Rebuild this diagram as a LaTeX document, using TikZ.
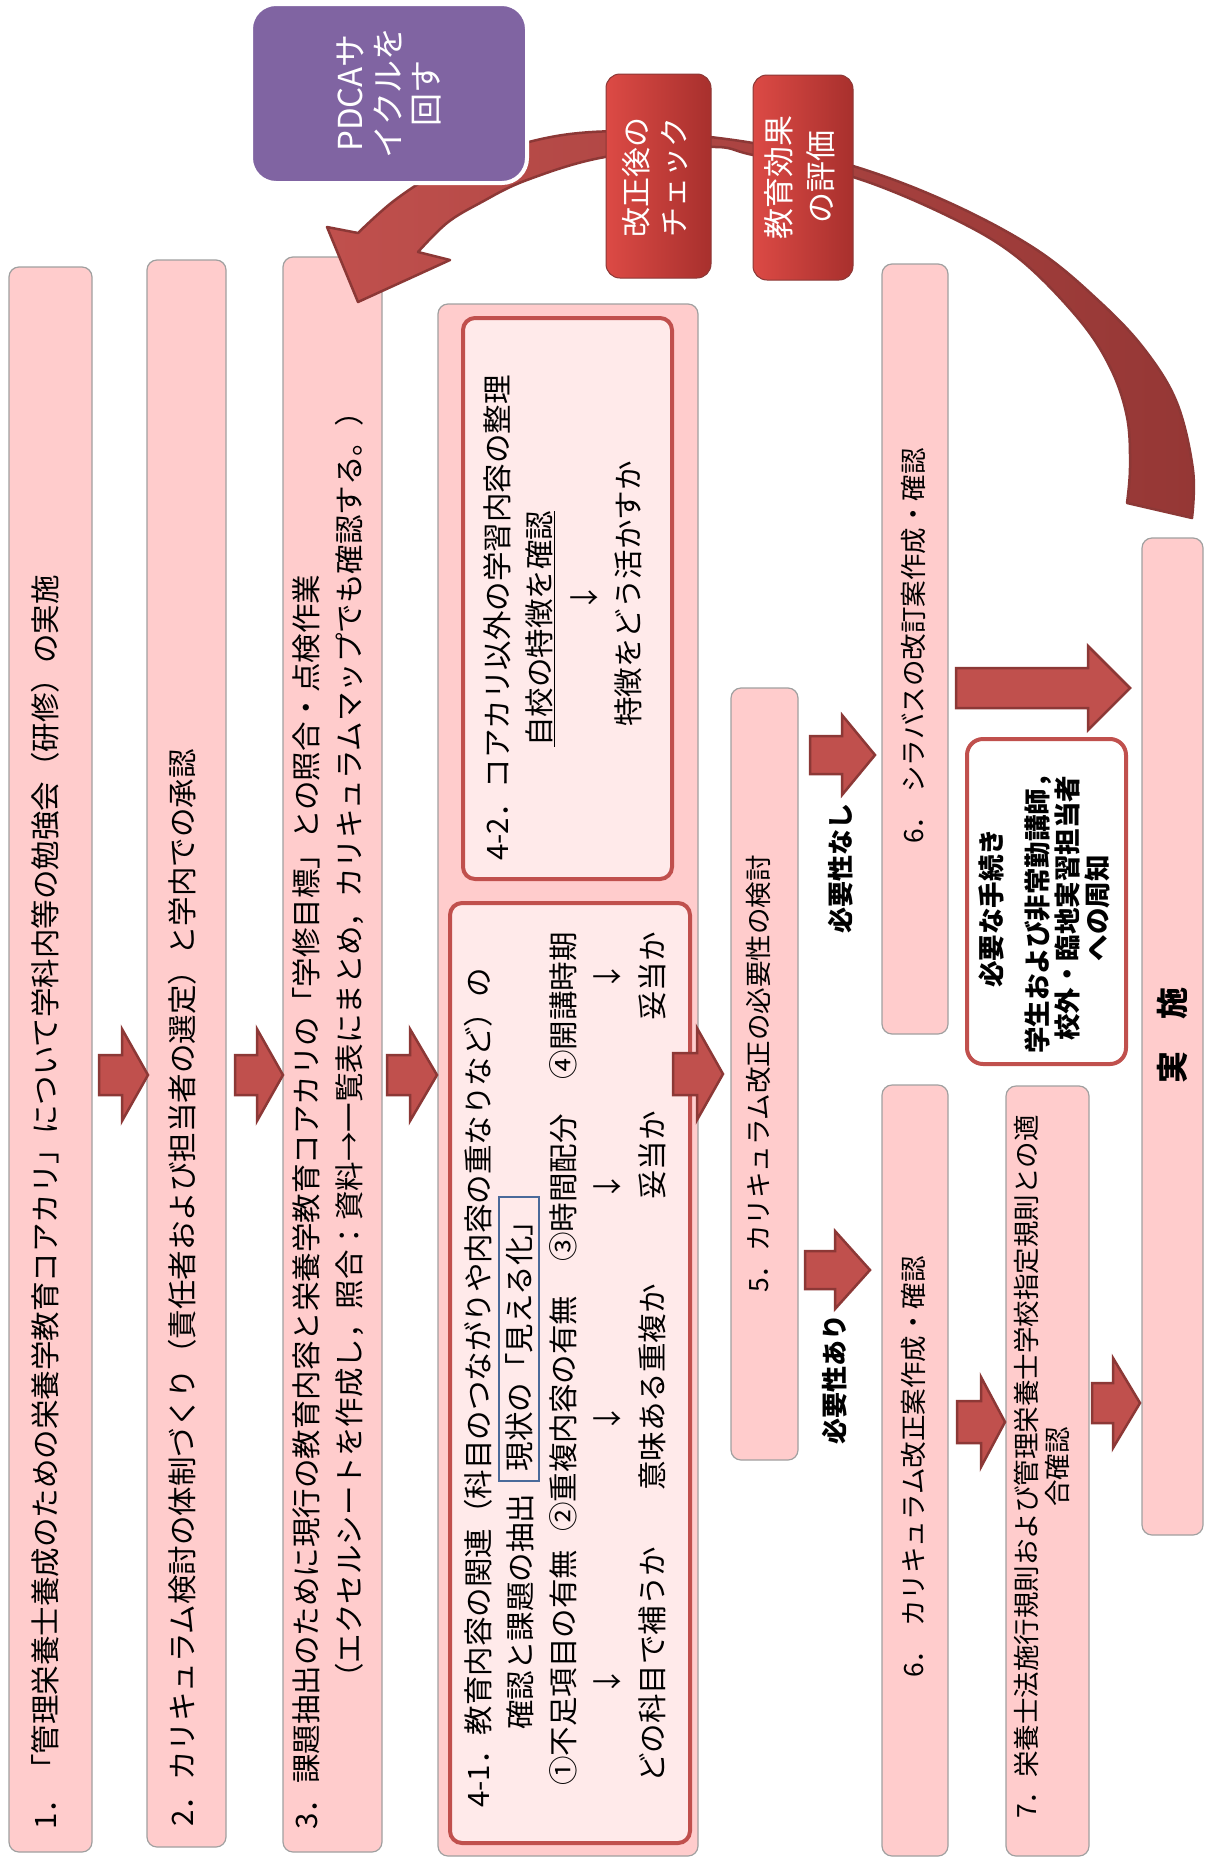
\documentclass[tikz,border=0pt]{standalone}
\usepackage{fontspec}
\setmainfont{Noto Sans CJK JP}
\usetikzlibrary{fit}
\definecolor{pinkbox}{HTML}{FFCCCC}
\definecolor{pinkin}{HTML}{FFEAEA}
\definecolor{graybd}{HTML}{A0A0A0}
\definecolor{redA}{HTML}{C0504D}
\definecolor{redD}{HTML}{8C3836}
\definecolor{redE}{HTML}{953735}
\definecolor{purp}{HTML}{8064A2}
\definecolor{redL}{HTML}{DC4A45}
\definecolor{redR}{HTML}{A8302D}
\definecolor{bluebd}{HTML}{4A6A9A}
\newcommand{\fs}[1]{\fontsize{#1}{#1}\selectfont}
\newcommand{\fsb}[2]{\fontsize{#1}{#2}\selectfont}
\newcommand{\barrow}[6]{\draw[barrowst] (#1,#4-#5) -- (#2,#4-#5) -- (#2,#4-#6) -- (#3,#4) -- (#2,#4+#6) -- (#2,#4+#5) -- (#1,#4+#5) -- cycle;}
\begin{document}
\begin{tikzpicture}[x=1pt,y=-1pt,
  pbox/.style={draw=graybd, line width=1.2pt, fill=pinkbox, rounded corners=10pt, inner sep=0pt},
  ibox/.style={draw=redA, line width=4pt, fill=pinkin, rounded corners=12pt, inner sep=0pt},
  barrowst/.style={fill=redA, draw=redD, line width=2.5pt, line join=miter},
  redbox/.style={left color=redL, right color=redR, draw=redD, line width=1pt, rounded corners=14pt, inner sep=0pt},
  t/.style={inner sep=0pt, rotate=90, text=black},
  tA/.style={t, font=\fs{29.5}},
  tB/.style={t, font=\fs{26.5}},
]
\useasboundingbox (0,0) rectangle (1205,1863);
\fill[white] (0,0) rectangle (1205,1863);

% ---- boxes
\node[pbox, fit={(9,267) (92,1852)}] (b1) {};
\node[pbox, fit={(147,260) (226,1847)}] (b2) {};
\node[pbox, fit={(283,257) (382,1852)}] (b3) {};
\node[pbox, fit={(438,304) (698,1856)}] (b4) {};
\node[ibox, fit={(463,318) (672,879)}] (b42) {};
\node[ibox, fit={(450,903) (690,1843)}] (b41) {};
\node[pbox, fit={(731,688) (798,1460)}] (b5) {};
\node[pbox, fit={(882,264) (948,1034)}] (b6a) {};
\node[pbox, fit={(882,1085) (948,1856)}] (b6b) {};
\node[pbox, fit={(1006,1086) (1089,1856)}] (b7) {};
\node[pbox, fit={(1142,538) (1203,1535)}] (bj) {};
\node[fit={(967,739) (1126,1064)}, inner sep=0pt, draw=redA, line width=4pt, fill=white, rounded corners=16pt] (note) {};

% ---- block arrows
\barrow{99}{122}{148}{1075}{20}{46}
\barrow{235}{257}{283}{1075}{20}{46}
\barrow{387}{410}{437}{1075}{20}{46}
\barrow{673}{697}{723}{1074}{21}{46}
\barrow{810}{842}{875}{755}{19}{40}
\barrow{805}{835}{870}{1270}{19}{39}
\barrow{957}{981}{1005}{1422}{21}{45}
\barrow{1092}{1113}{1140}{1403}{20}{45}
\barrow{956}{1088}{1130}{688}{20}{42}

% ---- curved arrow
\path[draw=redD, line width=2.5pt, left color=redA, right color=redE, line join=round]
  plot[smooth, tension=0.6] coordinates {(1192,518) (1193,470) (1177,403) (1145,350) (1100,302) (1037,250) (950,203) (853,166) (753,143) (650,132) (570,134) (500,150) (440,172) (395,200) (358,233)}
  -- (327,227) -- (358,302) -- (450,260)
  -- plot[smooth, tension=0.6] coordinates {(418,252) (447,223) (480,203) (527,180) (605,157) (710,147) (753,155) (853,177) (950,217) (1017,257) (1077,317) (1110,367) (1127,417) (1130,467) (1127,503)}
  -- cycle;

% ---- top boxes
\node[fit={(251,4) (527,183)}, inner sep=0pt, fill=purp, draw=white, line width=4pt, rounded corners=25pt] (pdca) {};
\node[redbox, fit={(606,74) (711,278)}] (rb1) {};
\node[redbox, fit={(753,75) (853,280)}] (rb2) {};

% ---- texts
\node[tA, anchor=west] (t1) at (45,1830) {1．「管理栄養士養成のための栄養学教育コアカリ」について学科内等の勉強会（研修）の実施};
\node[tA, anchor=west] (t2) at (182,1827) {2．カリキュラム検討の体制づくり（責任者および担当者の選定）と学内での承認};
\node[tA, anchor=west] (t3a) at (306,1830) {3．課題抽出のために現行の教育内容と栄養学教育コアカリの「学修目標」との照合・点検作業};
\node[tA, anchor=west] (t3b) at (349,1693) {（エクセルシートを作成し，照合：資料→一覧表にまとめ，カリキュラムマップでも確認する。）};

\node[tA, anchor=west] (t42a) at (497,861) {4-2．コアカリ以外の学習内容の整理};
\node[tA, anchor=west] (t42b) at (540,747) {\underline{自校の特徴を確認}};
\node[tA] (t42c) at (584,598) {↓};
\node[tA, anchor=west] (t42d) at (628,727) {特徴をどう活かすか};

\node[tA, anchor=west] (t41a) at (478,1808) {4-1．教育内容の関連（科目のつながりや内容の重なりなど）の};
\node[tA, anchor=west] (t41b) at (520,1730) {確認と課題の抽出};
\node[tA, draw=bluebd, line width=1.5pt, minimum width=284pt, minimum height=40pt] (t41v) at (519,1339) {現状の「見える化」};
\node[tA, anchor=west] (t41c1) at (563,1786) {①不足項目の有無};
\node[tA, anchor=west] (t41c2) at (563,1532) {②重複内容の有無};
\node[tA, anchor=west] (t41c3) at (563,1262) {③時間配分};
\node[tA, anchor=west] (t41c4) at (563,1080) {④開講時期};
\node[tA] (t41d1) at (607,1682) {↓};
\node[tA] (t41d2) at (607,1419) {↓};
\node[tA] (t41d3) at (607,1187) {↓};
\node[tA] (t41d4) at (607,977) {↓};
\node[tA, anchor=west] (t41e1) at (652,1783) {どの科目で補うか};
\node[tA, anchor=west] (t41e2) at (652,1491) {意味ある重複か};
\node[tA, anchor=west] (t41e3) at (652,1200) {妥当か};
\node[tA, anchor=west] (t41e4) at (652,1021) {妥当か};

\node[tB] (t5) at (758,1074) {5．カリキュラム改正の必要性の検討};
\node[tB] (t6a) at (913,646) {6．\hspace{10pt}シラバスの改訂案作成・確認};
\node[tB] (t6b) at (913,1467) {6．\hspace{10pt}カリキュラム改正案作成・確認};
\node[t, align=center, font=\fsb{26.5}{31}] (t7) at (1042,1467) {7．栄養士法施行規則および管理栄養士学校指定規則との適\\合確認};

\node[t, align=center, font=\fsb{26.5}{30}\bfseries] (tn) at (1044,908) {必要な手続き\\[16pt]学生および非常勤講師，\\校外・臨地実習担当者\\への周知};
\node[t, font=\fs{26}\bfseries] (tna) at (841,868) {必要性なし};
\node[t, font=\fs{26}\bfseries] (tar) at (835,1379) {必要性あり};
\node[t, font=\fs{32}\bfseries] (tj) at (1172,1035) {実　施};

\node[t, text=white, align=center, font=\fsb{33}{38}] (tp) at (389,93) {PDCAサ\\イクルを\\回す};
\node[t, text=white, align=center, font=\fsb{30}{38}] (tr1) at (655,177) {改正後の\\チェック};
\node[t, text=white, align=center, font=\fsb{31}{42}] (tr2) at (800,177) {教育効果\\の評価};
\end{tikzpicture}
\end{document}
